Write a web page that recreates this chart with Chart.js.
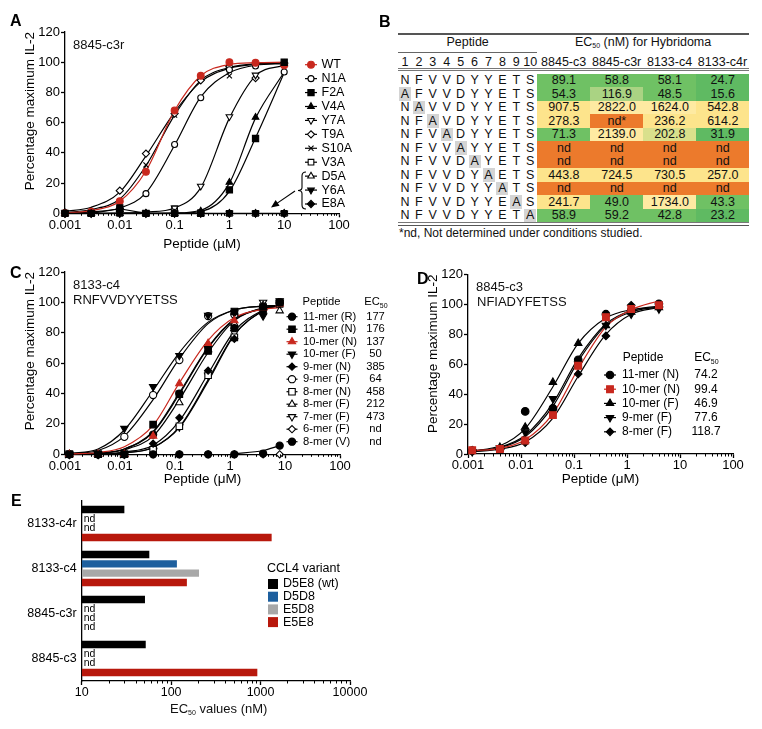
<!DOCTYPE html>
<html>
<head>
<meta charset="utf-8">
<title>Peptide dose response and EC50</title>
<script src="https://cdn.jsdelivr.net/npm/chart.js@4.4.1/dist/chart.umd.min.js"></script>
<style>
  body { margin: 0; background: #fff; }
  #page { position: relative; width: 762px; height: 729px; overflow: hidden;
          font-family: "Liberation Sans", Arial, Helvetica, sans-serif; color: #111; }
  #page canvas { position: absolute; }
  .txt { position: absolute; white-space: nowrap; line-height: 1; font-size: 13px; }
  .panel { position: absolute; font-weight: bold; font-size: 16px; line-height: 1; color: #000; }
  .cell { position: absolute; text-align: center; font-size: 12.5px; white-space: nowrap; }
  .rule { position: absolute; background: #666; }
  sub { font-size: 7px; vertical-align: -2px; }
</style>
</head>
<body>
<div id="page">
  <canvas id="chartA" width="390" height="262" style="left:0;top:0"></canvas>
  <canvas id="chartC" width="390" height="228" style="left:0;top:262px"></canvas>
  <canvas id="chartD" width="372" height="228" style="left:390px;top:262px"></canvas>
  <canvas id="chartE" width="430" height="244" style="left:0;top:485px"></canvas>

  <div class="panel" style="left:10px;top:13px">A</div>
  <div class="panel" style="left:379px;top:14px">B</div>
  <div class="panel" style="left:10px;top:265px">C</div>
  <div class="panel" style="left:417px;top:271px">D</div>
  <div class="panel" style="left:11px;top:493px">E</div>

  <div class="txt" style="left:73px;top:37.6px">8845-c3r</div>
  <div class="txt" style="left:73px;top:277.6px">8133-c4</div>
  <div class="txt" style="left:73px;top:292.6px">RNFVVDYYETSS</div>
  <div class="txt" style="left:476px;top:279.6px">8845-c3</div>
  <div class="txt" style="left:477px;top:294.6px">NFIADYFETSS</div>
  <div class="txt" style="left:170px;top:701.6px">EC<sub>50</sub> values (nM)</div>
</div>

<script>
// ---------- data ----------
// panel A : 8845-c3r, alanine scan (peptide in uM)
const A_CONC = [0.001, 0.003, 0.01, 0.03, 0.1, 0.3, 1, 3, 10];
const A_WT   = [0, 1, 8, 27.5, 68, 91, 100, 99.6, 98];
const A_N1A  = [0.5, 1, 3, 13, 45.5, 76.5, 95, 97.5, 93.5];
const A_F2A  = [0, 0, 3.5, 0, 0, 0, 15.5, 49.5, 100];
const A_V4A  = [0, 0, 0, 0, 0, 1.5, 20.5, 63.5, 99];
const A_Y7A  = [0, 0, 0, 0, 3.5, 18, 64, 91.5, 98.5];
const A_T9A  = [0.5, 1.5, 15, 39.5, 66, 88, 97, 89.5, 99];
const A_S10A = [0, 1, 7, 32, 65, 89, 91, 99, 100];
const A_V3A  = [0, 0, 0, 0, 3, 0.5, 0, 0, 0];
const A_D5A  = [0, 0, 0, 0, 0, 0, 0, 0, 0];
const A_Y6A  = [0, 0, 0, 0, 0, 0, 0, 0, 0];
const A_E8A  = [0, 0, 3, 0, 0, 0, 0, 0, 0];
// fitted curves, same concentrations
const A_WT_FIT   = [0.3, 1.8, 8, 28, 68, 91, 98.5, 99.7, 100];
const A_N1A_FIT  = [0.2, 1, 3.5, 13.5, 45, 77, 93, 98, 99];
const A_F2A_FIT  = [0, 0, 0, 0, 0.1, 1.2, 14.5, 50, 93];
const A_V4A_FIT  = [0, 0, 0, 0, 0.2, 2, 20, 63, 93.5];
const A_Y7A_FIT  = [0, 0, 0.2, 0.8, 3.5, 17, 63, 91, 98];
const A_T9A_FIT  = [1.2, 4, 14, 38, 67, 87, 96, 98.5, 99.5];
const A_S10A_FIT = [0.5, 2.5, 9.5, 31.5, 65, 88, 96.5, 99, 99.5];

// panel B : EC50 table
const B_PEPTIDES = ['NFVVDYYETS', 'AFVVDYYETS', 'NAVVDYYETS', 'NFAVDYYETS', 'NFVADYYETS', 'NFVVAYYETS',
                    'NFVVDAYETS', 'NFVVDYAETS', 'NFVVDYYATS', 'NFVVDYYEAS', 'NFVVDYYETA'];
const B_CLONES = ['8845-c3', '8845-c3r', '8133-c4', '8133-c4r'];
const B_C3  = ['89.1', '54.3', '907.5', '278.3', '71.3', 'nd', 'nd', '443.8', 'nd', '241.7', '58.9'];
const B_C3R = ['58.8', '116.9', '2822.0', 'nd*', '2139.0', 'nd', 'nd', '724.5', 'nd', '49.0', '59.2'];
const B_C4  = ['58.1', '48.5', '1624.0', '236.2', '202.8', 'nd', 'nd', '730.5', 'nd', '1734.0', '42.8'];
const B_C4R = ['24.7', '15.6', '542.8', '614.2', '31.9', 'nd', 'nd', '257.0', 'nd', '43.3', '23.2'];

// panel C : 8133-c4, length variants
const C_CONC = [0.0012, 0.004, 0.012, 0.04, 0.12, 0.4, 1.2, 4, 8];
const C_LABELS = ['11-mer (R)', '11-mer (N)', '10-mer (N)', '10-mer (F)', '9-mer (N)', '9-mer (F)',
                  '8-mer (N)', '8-mer (F)', '7-mer (F)', '6-mer (F)', '8-mer (V)'];
const C_EC50 = ['177', '176', '137', '50', '385', '64', '458', '212', '473', 'nd', 'nd'];
const C_11R = [0, 0, 0, 13, 40, 71, 83, 96, 100];
const C_11N = [0, 0, 0, 19.5, 39.5, 68, 94, 97, 100];
const C_10N = [0, 0, 0, 12, 46.5, 73, 88, 96, 99];
const C_10F = [0, 0, 17, 44.5, 65, 91.5, 93, 91, 100];
const C_9N  = [0, 0, 0, 7, 24, 55, 76, 93, 99];
const C_9F  = [0, 0, 11.5, 39, 62, 91, 92, 97, 100];
const C_8N  = [0, 0, 0, 3, 18.5, 52, 77, 96, 99];
const C_8F  = [0, 0, 0, 5, 34, 69, 86, 98, 94.5];
const C_7F  = [0, 0, 0, 2.5, 18, 52, 80, 100, 101];
const C_6F  = [0, 0, 0, 0, 0, 0, 0, 0, 0];
const C_8V  = [null, null, null, 0, 0, 0, 0, 0.5, 5.7];
const C_11R_FIT = [0, 0.8, 3.5, 14.5, 39.5, 70, 88.5, 96.5, 98];
const C_11N_FIT = [0, 0.8, 3.5, 15, 40.5, 70.5, 89, 96, 97.5];
const C_10N_FIT = [0.2, 1.2, 5, 19, 47, 75, 90, 95.5, 96.5];
const C_10F_FIT = [0.5, 3.5, 16, 42, 67, 87, 95, 97.5, 98];
const C_9N_FIT  = [0, 0.3, 1.5, 6, 22, 53, 81, 95, 98.5];
const C_9F_FIT  = [0.3, 2.5, 12, 36, 63, 86, 95, 97.5, 98];
const C_8N_FIT  = [0, 0.2, 1, 4.5, 18, 49, 79, 94.5, 98.5];
const C_8F_FIT  = [0, 0.6, 3, 12, 36, 67, 88, 96, 97.5];
const C_7F_FIT  = [0, 0.2, 1, 4.5, 17.5, 48, 78.5, 94.5, 98.5];
const C_8V_FIT  = [null, null, null, null, null, null, 0.3, 2.5, 5.7];

// panel D : 8845-c3, length variants
const D_CONC = [0.0012, 0.004, 0.012, 0.04, 0.12, 0.4, 1.2, 4];
const D_LABELS = ['11-mer (N)', '10-mer (N)', '10-mer (F)', '9-mer (F)', '8-mer (F)'];
const D_EC50 = ['74.2', '99.4', '46.9', '77.6', '118.7'];
const D_11N = [2.2, 3, 28.5, 30.5, 63, 93.5, 96, 100.5];
const D_10N = [2.5, 3.3, 9, 26, 59, 91.5, 97, 99.5];
const D_10F = [2, 4.5, 18, 48, 74, 86, 95, 98];
const D_9F  = [1.5, 4, 14.5, 37, 60, 86, 93.5, 97];
const D_8F  = [2, 3, 7.5, 30, 53.5, 79, 99.5, 98];
const D_11N_FIT = [2, 4.5, 12.5, 34, 64, 87, 96, 99];
const D_10N_FIT = [2.2, 3.8, 9.5, 27, 57, 85, 96.5, 102.5];
const D_10F_FIT = [2, 5.5, 17, 45, 74, 91, 96.5, 98];
const D_9F_FIT  = [1.8, 4.2, 11.5, 32, 62, 86, 95, 98.5];
const D_8F_FIT  = [1.5, 3.2, 8, 24, 52, 80, 93.5, 98];

// panel E : EC50 per CCL4 variant (nM), null = nd
const E_CLONES = ['8133-c4r', '8133-c4', '8845-c3r', '8845-c3'];
const E_VARIANTS = ['D5E8 (wt)', 'D5D8', 'E5D8', 'E5E8'];
const E_D5E8 = [30, 57, 51, 52];
const E_D5D8 = [null, 116, null, null];
const E_E5D8 = [null, 205, null, null];
const E_E5E8 = [1330, 150, null, 920];

const DECADES = [0.001, 0.01, 0.1, 1, 10, 100];

// ---------- styling helpers ----------
const FAMILY = '"Liberation Sans", Arial, Helvetica, sans-serif';
const FONT = { family: FAMILY, size: 13 };
const TITLE_FONT = { family: FAMILY, size: 13.5 };
const BLACK = '#000';
const RED = '#c8281e';

const circle = (fill, r) => ({ style: 'circle', fill, r: r || 3.4 });
const square = (fill, r) => ({ style: 'rect', fill, r: r || 4.6 });
const triUp = (fill, r) => ({ style: 'triangle', fill, r: r || 4 });
const triDown = (fill, r) => ({ style: 'triangle', fill, r: r || 4, rot: 180 });
const diamond = (fill, r) => ({ style: 'rectRot', fill, r: r || 3.7 });
const cross = () => ({ style: 'crossRot', fill: false, r: 3.6 });

const pts = (xs, ys) => xs.map((x, i) => ({ x, y: ys[i] })).filter(p => p.y !== null);

function pointSet(s, conc) {
  return {
    label: s.label, data: pts(conc, s.ys), showLine: !!s.joined, borderColor: s.color,
    borderWidth: 1.2, tension: 0, clip: false,
    pointStyle: s.marker.style, pointRadius: s.marker.r, pointRotation: s.marker.rot || 0,
    pointBackgroundColor: s.marker.fill ? s.color : '#fff', pointBorderColor: s.color, pointBorderWidth: 1.1
  };
}

function fitSet(s, conc) {
  return {
    data: pts(conc, s.fit), showLine: true, pointRadius: 0, borderColor: s.color, borderWidth: 1.2,
    cubicInterpolationMode: 'monotone', clip: false, fill: false
  };
}

function drawMarker(ctx, m, color, x, y) {
  ctx.fillStyle = m.fill ? color : '#fff';
  ctx.strokeStyle = color;
  ctx.lineWidth = 1.1;
  Chart.helpers.drawPoint(ctx, { pointStyle: m.style, radius: m.r, rotation: m.rot || 0, borderWidth: 1.1 }, x, y);
}

// short minor ticks on log axes
const minorTicks = {
  id: 'minorTicks',
  afterDraw(chart) {
    const s = chart.scales.x;
    const ctx = chart.ctx;
    ctx.save();
    ctx.strokeStyle = BLACK;
    ctx.lineWidth = 1;
    for (let e = Math.round(Math.log10(s.min)); e < Math.round(Math.log10(s.max)); e++) {
      for (let k = 2; k < 10; k++) {
        const px = Math.round(s.getPixelForValue(k * Math.pow(10, e))) + 0.5;
        ctx.beginPath();
        ctx.moveTo(px, s.top);
        ctx.lineTo(px, s.top + 2.5);
        ctx.stroke();
      }
    }
    ctx.restore();
  }
};

function legendPlugin(cfg) {
  return {
    id: 'sideLegend',
    afterDraw(chart) {
      const ctx = chart.ctx;
      const font = cfg.size + 'px ' + FAMILY;
      ctx.save();
      ctx.font = font;
      ctx.textBaseline = 'middle';
      ctx.fillStyle = BLACK;
      if (cfg.header) {
        ctx.textAlign = 'center';
        ctx.fillText('Peptide', cfg.header.peptideX, cfg.header.y);
        ctx.textAlign = 'left';
        const w = ctx.measureText('EC').width;
        const x0 = cfg.valueX - (w + 7) / 2;
        ctx.fillText('EC', x0, cfg.header.y);
        ctx.font = '7px ' + FAMILY;
        ctx.fillText('50', x0 + w, cfg.header.y + 4.5);
        ctx.font = font;
      }
      cfg.items.forEach((it, i) => {
        const y = cfg.y + i * cfg.dy;
        ctx.strokeStyle = it.color;
        ctx.lineWidth = 1.2;
        ctx.beginPath();
        ctx.moveTo(cfg.x - cfg.half, y);
        ctx.lineTo(cfg.x + cfg.half, y);
        ctx.stroke();
        drawMarker(ctx, it.marker, it.color, cfg.x, y);
        ctx.fillStyle = BLACK;
        ctx.textAlign = 'left';
        ctx.fillText(it.label, cfg.textX, y);
        if (it.ec50 !== undefined) {
          ctx.textAlign = 'center';
          ctx.fillText(it.ec50, cfg.valueX, y);
        }
      });
      ctx.restore();
    }
  };
}

function doseOptions(g) {
  return {
    responsive: false,
    animation: false,
    layout: { padding: { left: 0, top: g.top, right: g.right, bottom: 0 } },
    plugins: { legend: { display: false }, tooltip: { enabled: false } },
    scales: {
      x: {
        type: 'logarithmic', min: 0.001, max: 100,
        afterBuildTicks: s => { s.ticks = DECADES.map(v => ({ value: v })); },
        afterFit: s => { s.height = g.xHeight; },
        border: { color: BLACK, width: 1.3 },
        grid: { drawOnChartArea: false, tickLength: 4, tickColor: BLACK, tickWidth: 1.3 },
        ticks: { color: BLACK, font: FONT, padding: 0, maxRotation: 0, autoSkip: false, callback: v => String(v) },
        title: { display: true, text: g.xTitle, color: BLACK, font: TITLE_FONT, padding: { top: 0, bottom: g.xTitlePad } }
      },
      y: {
        min: 0, max: 120,
        afterFit: s => { s.width = g.yWidth; },
        border: { color: BLACK, width: 1.3 },
        grid: { drawOnChartArea: false, tickLength: 4, tickColor: BLACK, tickWidth: 1.3 },
        ticks: { stepSize: 20, color: BLACK, font: FONT, padding: 1 },
        title: { display: true, text: 'Percentage maximum IL-2', align: 'end', color: BLACK, font: TITLE_FONT,
                 padding: { top: g.yTitlePad, bottom: 0 } }
      }
    }
  };
}

// draw order: first dataset ends up on top
function makeDoseChart(id, g, conc, series, legend, extra) {
  const front = series.filter(s => s.front).reverse();
  const red = series.filter(s => s.color === RED);
  const black = series.filter(s => s.color !== RED && !s.front);
  const datasets = [
    ...front.map(s => pointSet(s, conc)),
    ...red.map(s => pointSet(s, conc)),
    ...black.map(s => pointSet(s, conc)),
    ...red.filter(s => s.fit).map(s => fitSet(s, conc)),
    ...series.filter(s => s.fit && s.color !== RED).map(s => fitSet(s, conc))
  ];
  legend.items = series.map((s, i) => ({ label: s.label, marker: s.marker, color: s.color, ec50: legend.values ? legend.values[i] : undefined }));
  return new Chart(document.getElementById(id), {
    type: 'scatter',
    data: { datasets },
    options: doseOptions(g),
    plugins: [minorTicks, legendPlugin(legend)].concat(extra || [])
  });
}

// ---------- panel A ----------
const seriesA = [
  { label: 'WT', ys: A_WT, fit: A_WT_FIT, marker: circle(true, 3.4), color: RED },
  { label: 'N1A', ys: A_N1A, fit: A_N1A_FIT, marker: circle(false, 3), color: BLACK },
  { label: 'F2A', ys: A_F2A, fit: A_F2A_FIT, marker: square(true, 4.4), color: BLACK, front: true },
  { label: 'V4A', ys: A_V4A, fit: A_V4A_FIT, marker: triUp(true, 3.8), color: BLACK },
  { label: 'Y7A', ys: A_Y7A, fit: A_Y7A_FIT, marker: triDown(false, 3.8), color: BLACK },
  { label: 'T9A', ys: A_T9A, fit: A_T9A_FIT, marker: diamond(false, 3.6), color: BLACK },
  { label: 'S10A', ys: A_S10A, fit: A_S10A_FIT, marker: cross(), color: BLACK },
  { label: 'V3A', ys: A_V3A, marker: square(false, 4), color: BLACK },
  { label: 'D5A', ys: A_D5A, marker: triUp(false, 3.8), color: BLACK },
  { label: 'Y6A', ys: A_Y6A, marker: triDown(true, 3.8), color: BLACK, front: true },
  { label: 'E8A', ys: A_E8A, marker: diamond(true, 3.6), color: BLACK, joined: true, front: true }
];

// brace + arrow pointing at the flat (nd) group
const braceA = {
  id: 'braceA',
  afterDraw(chart) {
    const ctx = chart.ctx;
    ctx.save();
    ctx.strokeStyle = BLACK;
    ctx.fillStyle = BLACK;
    ctx.lineWidth = 1.1;
    const x = 302, t = 172, b = 209, m = 190.5;
    ctx.beginPath();
    ctx.moveTo(x + 4, t);
    ctx.quadraticCurveTo(x, t, x, t + 4);
    ctx.lineTo(x, m - 3);
    ctx.quadraticCurveTo(x, m, x - 4, m);
    ctx.quadraticCurveTo(x, m, x, m + 3);
    ctx.lineTo(x, b - 4);
    ctx.quadraticCurveTo(x, b, x + 4, b);
    ctx.stroke();
    const x1 = 295, y1 = 191, x2 = 271, y2 = 207.5;
    const ang = Math.atan2(y2 - y1, x2 - x1);
    ctx.beginPath();
    ctx.moveTo(x1, y1);
    ctx.lineTo(x2 - 5 * Math.cos(ang), y2 - 5 * Math.sin(ang));
    ctx.stroke();
    ctx.beginPath();
    ctx.moveTo(x2, y2);
    ctx.lineTo(x2 - 8 * Math.cos(ang) + 3.5 * Math.sin(ang), y2 - 8 * Math.sin(ang) - 3.5 * Math.cos(ang));
    ctx.lineTo(x2 - 8 * Math.cos(ang) - 3.5 * Math.sin(ang), y2 - 8 * Math.sin(ang) + 3.5 * Math.cos(ang));
    ctx.closePath();
    ctx.fill();
    ctx.restore();
  }
};

makeDoseChart('chartA',
  { top: 32, right: 51, yWidth: 65, xHeight: 48.7, yTitlePad: 22, xTitlePad: 9.2, xTitle: 'Peptide (µM)' },
  A_CONC, seriesA,
  { x: 311, textX: 321.5, y: 64.7, dy: 13.93, half: 6, size: 12.5 },
  [braceA]);

// ---------- panel C ----------
const C_Y = [C_11R, C_11N, C_10N, C_10F, C_9N, C_9F, C_8N, C_8F, C_7F, C_6F, C_8V];
const C_FIT = [C_11R_FIT, C_11N_FIT, C_10N_FIT, C_10F_FIT, C_9N_FIT, C_9F_FIT, C_8N_FIT, C_8F_FIT, C_7F_FIT, null, C_8V_FIT];
const C_MARK = [circle(true, 3.6), square(true, 4.6), triUp(true, 4.2), triDown(true, 4.2), diamond(true, 3.6),
                circle(false, 3.6), square(false, 4.6), triUp(false, 4.2), triDown(false, 4.2), diamond(false, 3.6), circle(true, 3.6)];
const seriesC = C_LABELS.map((label, i) => ({
  label, ys: C_Y[i], fit: C_FIT[i], marker: C_MARK[i], color: label === '10-mer (N)' ? RED : BLACK,
  front: label === '11-mer (N)' || label === '8-mer (V)'
}));
makeDoseChart('chartC',
  { top: 10, right: 50, yWidth: 65, xHeight: 35.7, yTitlePad: 22, xTitlePad: 2.2, xTitle: 'Peptide (μM)' },
  C_CONC, seriesC,
  { x: 292, textX: 303, y: 54.7, dy: 12.5, half: 5.5, size: 11.2, valueX: 375.5, values: C_EC50,
    header: { peptideX: 321.5, y: 40 } });

// ---------- panel D ----------
const D_Y = [D_11N, D_10N, D_10F, D_9F, D_8F];
const D_FIT = [D_11N_FIT, D_10N_FIT, D_10F_FIT, D_9F_FIT, D_8F_FIT];
const D_MARK = [circle(true, 3.8), square(true, 4.8), triUp(true, 4.3), triDown(true, 4.3), diamond(true, 3.8)];
const seriesD = D_LABELS.map((label, i) => ({
  label, ys: D_Y[i], fit: D_FIT[i], marker: D_MARK[i], color: label === '10-mer (N)' ? RED : BLACK
}));
makeDoseChart('chartD',
  { top: 12.6, right: 29, yWidth: 78, xHeight: 36, yTitlePad: 35, xTitlePad: 2.2, xTitle: 'Peptide (μM)' },
  D_CONC, seriesD,
  { x: 220, textX: 232, y: 113, dy: 14.2, half: 6, size: 12, valueX: 316, values: D_EC50,
    header: { peptideX: 253, y: 96 } });

// ---------- panel E ----------
const E_COLORS = ['#000000', '#1d5f9e', '#a8a8a8', '#b8180c'];
const E_VALUES = [E_D5E8, E_D5D8, E_E5D8, E_E5E8];
const E_FONT = { family: FAMILY, size: 12.5 };

const ndLabels = {
  id: 'ndLabels',
  afterDatasetsDraw(chart) {
    const ctx = chart.ctx;
    const xs = chart.scales.x;
    ctx.save();
    ctx.font = '10.5px ' + FAMILY;
    ctx.fillStyle = BLACK;
    ctx.textBaseline = 'middle';
    ctx.textAlign = 'left';
    chart.data.datasets.forEach((ds, i) => {
      const meta = chart.getDatasetMeta(i);
      ds.data.forEach((v, j) => {
        if (v === null && meta.data[j] && isFinite(meta.data[j].y)) {
          ctx.fillText('nd', xs.left + 2, meta.data[j].y);
        }
      });
    });
    ctx.restore();
  }
};

const legendE = {
  id: 'legendE',
  afterDraw(chart) {
    const ctx = chart.ctx;
    ctx.save();
    ctx.font = '12.5px ' + FAMILY;
    ctx.fillStyle = BLACK;
    ctx.textBaseline = 'middle';
    ctx.textAlign = 'left';
    ctx.fillText('CCL4 variant', 267, 84);
    E_VARIANTS.forEach((name, i) => {
      const y = 99 + i * 12.7;
      ctx.fillStyle = E_COLORS[i];
      ctx.fillRect(268, y - 5, 10, 10);
      ctx.fillStyle = BLACK;
      ctx.fillText(name, 283, y);
    });
    ctx.restore();
  }
};

new Chart(document.getElementById('chartE'), {
  type: 'bar',
  data: {
    labels: E_CLONES,
    datasets: E_VARIANTS.map((name, i) => ({
      label: name, data: E_VALUES[i], backgroundColor: E_COLORS[i], borderWidth: 0,
      categoryPercentage: 0.83, barPercentage: 0.79
    }))
  },
  options: {
    indexAxis: 'y',
    responsive: false,
    animation: false,
    layout: { padding: { left: 0, top: 16, right: 80, bottom: 0 } },
    plugins: { legend: { display: false }, tooltip: { enabled: false } },
    scales: {
      x: {
        type: 'logarithmic', min: 10, max: 10000,
        afterBuildTicks: s => { s.ticks = [10, 100, 1000, 10000].map(v => ({ value: v })); },
        afterFit: s => { s.height = 48; },
        border: { color: BLACK, width: 1.3 },
        grid: { drawOnChartArea: false, tickLength: 4, tickColor: BLACK, tickWidth: 1.3 },
        ticks: { color: BLACK, font: E_FONT, padding: 0, maxRotation: 0, autoSkip: false, callback: v => String(v) }
      },
      y: {
        afterFit: s => { s.width = 81.7; },
        border: { color: BLACK, width: 1.3 },
        grid: { drawOnChartArea: false, drawTicks: false },
        ticks: { color: BLACK, font: E_FONT, padding: 5 }
      }
    }
  },
  plugins: [minorTicks, ndLabels, legendE]
});

// ---------- panel B (table) ----------
function ecColor(v) {
  if (v.startsWith('nd')) return '#ec7a2c';
  const n = parseFloat(v);
  if (n < 40) return '#5fba62';
  if (n < 100) return '#6fc164';
  if (n < 150) return '#aad383';
  if (n < 230) return '#d9e08c';
  if (n < 1000) return '#fde48c';
  return '#feeaa2';
}

(function buildTable() {
  const host = document.getElementById('page');
  const add = (cls, css, html) => {
    const d = document.createElement('div');
    d.className = cls;
    d.style.cssText = css;
    if (html !== undefined) d.innerHTML = html;
    host.appendChild(d);
    return d;
  };
  const L = 398, W = 351, RES_W = 13.92, COL0 = L + 10 * RES_W, COL_W = (L + W - COL0) / 4;
  const ROW_TOP = 74, ROW_H = 13.46;
  const cols = [B_C3, B_C3R, B_C4, B_C4R];

  add('rule', `left:${L}px;top:33px;width:${W}px;height:1.5px;background:#555`);
  add('cell', `left:${L}px;top:36.1px;width:${10 * RES_W}px;line-height:13.4px`, 'Peptide');
  add('rule', `left:${L}px;top:52px;width:${10 * RES_W}px;height:1px`);
  add('cell', `left:${COL0}px;top:36.1px;width:${4 * COL_W}px;line-height:13.4px`,
      'EC<sub>50</sub> (nM) for Hybridoma');
  for (let k = 0; k < 10; k++) {
    add('cell', `left:${L + k * RES_W}px;top:56.1px;width:${RES_W}px;line-height:13.4px`, String(k + 1));
  }
  B_CLONES.forEach((c, j) => {
    add('cell', `left:${COL0 + j * COL_W}px;top:56.1px;width:${COL_W}px;line-height:13.4px`, c);
  });
  add('rule', `left:${L}px;top:67.8px;width:${W}px;height:1px;background:#777`);
  add('rule', `left:${L}px;top:70.3px;width:${W}px;height:1px;background:#777`);

  B_PEPTIDES.forEach((pep, r) => {
    const top = Math.round(ROW_TOP + r * ROW_H);
    const h = Math.round(ROW_TOP + (r + 1) * ROW_H) - top;
    for (let k = 0; k < 10; k++) {
      const hi = r > 0 && k === r - 1;
      if (hi) add('rule', `left:${L + k * RES_W + 1}px;top:${top}px;width:12px;height:${h}px;background:#d4d4d4`);
      add('cell', `left:${L + k * RES_W}px;top:${top}px;width:${RES_W}px;height:${h}px;line-height:${h}px`, pep[k]);
    }
    cols.forEach((col, j) => {
      add('cell', `left:${COL0 + j * COL_W}px;top:${top}px;width:${COL_W + 0.5}px;height:${h}px;line-height:${h}px;background:${ecColor(col[r])}`, col[r]);
    });
  });
  add('rule', `left:${L}px;top:222.3px;width:${W}px;height:1px;background:#777`);
  add('rule', `left:${L}px;top:224.6px;width:${W}px;height:1.2px;background:#555`);
  add('txt', `left:399px;top:226.8px;font-size:12px`, '*nd, Not determined under conditions studied.');
})();
</script>
</body>
</html>
